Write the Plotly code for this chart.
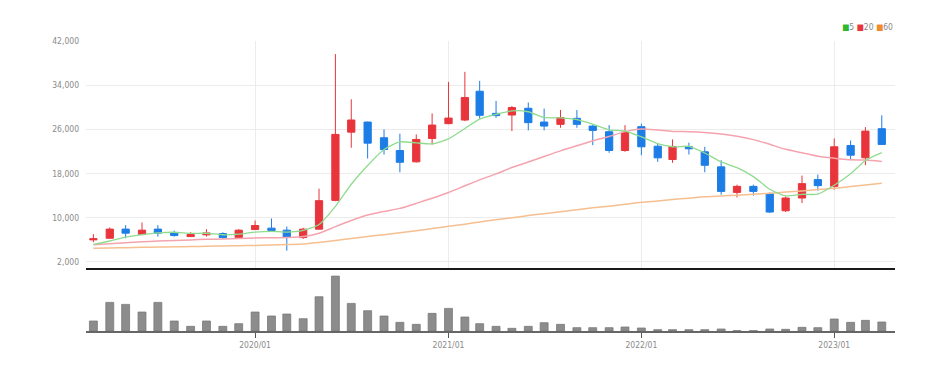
import plotly.graph_objects as go

months = ["2019-03-01","2019-04-01","2019-05-01","2019-06-01","2019-07-01","2019-08-01","2019-09-01","2019-10-01","2019-11-01","2019-12-01",
          "2020-01-01","2020-02-01","2020-03-01","2020-04-01","2020-05-01","2020-06-01","2020-07-01","2020-08-01","2020-09-01","2020-10-01","2020-11-01","2020-12-01",
          "2021-01-01","2021-02-01","2021-03-01","2021-04-01","2021-05-01","2021-06-01","2021-07-01","2021-08-01","2021-09-01","2021-10-01","2021-11-01","2021-12-01",
          "2022-01-01","2022-02-01","2022-03-01","2022-04-01","2022-05-01","2022-06-01","2022-07-01","2022-08-01","2022-09-01","2022-10-01","2022-11-01","2022-12-01",
          "2023-01-01","2023-02-01","2023-03-01","2023-04-01"]

opens  = [6000,6300,7950,6960,7950,7270,6600,6910,7145,6420,
          7870,8130,7760,6420,7945,13150,25500,27330,24490,22180,20130,24360,
          27040,27690,32910,28900,28600,29820,27330,26910,28000,26600,25580,22180,
          26490,22960,20545,22850,21945,19220,14600,15690,14360,11270,13580,16910,
          15690,23090,20850,26130]
highs  = [7036,8250,8670,9150,8670,7690,7400,7945,7380,7945,
          9510,9870,8420,8200,15270,39630,31450,27400,26000,25220,25090,28900,
          34600,36420,34780,31150,30240,30870,29760,29520,29500,26800,26780,26780,
          27040,23400,24180,23600,22850,20420,16000,16000,14600,13870,17640,17820,
          24360,24000,26420,28550]
lows   = [5581,6180,6300,6900,6600,6600,6550,6600,6180,6180,
          7800,7650,4050,6180,7900,13000,22670,20730,21450,18240,20000,23270,
          26950,27500,27950,28100,25690,25820,25820,26300,26300,23150,21760,21950,
          21330,20130,19945,21454,18240,14180,13690,14000,10850,11040,12670,14900,
          15090,20420,19510,23270]
closes = [6200,7950,7220,7760,7220,6780,6960,7270,6420,7760,
          8600,7690,6545,7945,13100,25090,27700,23510,22360,20050,24180,26780,
          28050,31760,28545,28500,29950,27220,26600,28130,26910,25820,22180,25510,
          22850,20850,22910,22490,19510,14780,15690,14780,11040,13580,16180,15820,
          22850,21330,25690,23270]

ma5  = [5200,5800,6500,6950,7270,7386,7188,7198,6930,7038,
        7402,7548,7403,7708,8776,12074,16076,19469,22352,23742,23560,23376,
        24284,26164,27863,28727,29361,29195,28163,28080,27762,26936,25928,25710,
        24654,23442,22860,22922,21722,20108,19076,17450,15160,13974,14254,14280,
        15894,17952,20374,21792]
ma20 = [5100,5300,5500,5650,5800,5900,6000,6100,6150,6250,
        6350,6400,6450,6600,7200,8400,9500,10500,11150,11707,12606,13547,
        14589,15789,16855,17941,19090,20088,21097,22115,23031,23937,24719,25597,
        26085,25873,25633,25582,25440,25176,24752,24152,23301,22392,21774,21140,
        20785,20491,20445,20202]
ma60 = [4500,4550,4600,4650,4700,4750,4800,4850,4900,4950,
        5000,5080,5150,5250,5550,5900,6250,6600,6950,7300,7650,8050,
        8450,8850,9250,9650,10000,10400,10750,11100,11450,11800,12100,12450,
        12800,13050,13300,13550,13800,13950,14100,14250,14450,14650,14850,15100,
        15350,15650,15950,16250]

volumes = [30,86,80,57,86,30,14,30,14,22,
           57,45,51,37,103,165,83,61,45,26,20,53,
           68,42,22,14,8,14,25,20,10,10,10,12,
           9,4,4,4,4,6,1,1,6,5,11,10,
           36,26,32,27]

year_ticks = ["2020-01-01","2021-01-01","2022-01-01","2023-01-01"]
year_labels = ["2020/01","2021/01","2022/01","2023/01"]
price_ticks = [2000,10000,18000,26000,34000,42000]
legend_names = ["5","20","60"]

UP = "#e8353b"
DOWN = "#1d7de6"
FONT = "Liberation Sans Narrow, DejaVu Sans Condensed, Arial Narrow, sans-serif"

fig = go.Figure()

fig.add_trace(go.Scatter(x=months, y=ma60, mode="lines", line=dict(color="#f6bf90", width=1.5, shape="spline", smoothing=0.6),
                         xaxis="x", yaxis="y", showlegend=False, hoverinfo="skip"))
fig.add_trace(go.Scatter(x=months, y=ma20, mode="lines", line=dict(color="#f5a3ad", width=1.5, shape="spline", smoothing=0.6),
                         xaxis="x", yaxis="y", showlegend=False, hoverinfo="skip"))
fig.add_trace(go.Candlestick(x=months, open=opens, high=highs, low=lows, close=closes,
                             increasing=dict(line=dict(color=UP, width=1), fillcolor=UP),
                             decreasing=dict(line=dict(color=DOWN, width=1), fillcolor=DOWN),
                             xaxis="x", yaxis="y", showlegend=False, whiskerwidth=0))
fig.add_trace(go.Scatter(x=months, y=ma5, mode="lines", line=dict(color="#8fdc8f", width=1.3, shape="spline", smoothing=0.6),
                         xaxis="x", yaxis="y", showlegend=False, hoverinfo="skip"))

fig.add_trace(go.Bar(x=months, y=volumes, marker=dict(color="#8c8c8c", line=dict(color="#7a7a7a", width=0.8)),
                     width=15*86400000, xaxis="x2", yaxis="y2", showlegend=False))

xrange = ["2019-02-15", "2023-04-26"]

fig.update_layout(
    width=952, height=373,
    margin=dict(l=78, r=65, t=33, b=50),
    paper_bgcolor="white", plot_bgcolor="white",
    font=dict(family=FONT, size=8.5, color="#8a8a8a"),
    hovermode=False,
    xaxis=dict(domain=[0, 1], anchor="y", type="date", range=xrange, rangeslider=dict(visible=False),
               showticklabels=False, showgrid=True, gridcolor="#ececec", gridwidth=1,
               tickvals=year_ticks, showline=True, linecolor="#1a1a1a", linewidth=2, ticks="", zeroline=False),
    yaxis=dict(domain=[0.217, 1], range=[900, 42000], tickvals=price_ticks,
               ticktext=[f"{v:,}" for v in price_ticks], showgrid=True, gridcolor="#ececec",
               zeroline=False, ticks="", ticklabelstandoff=6, tickfont=dict(size=8.5, color="#8a8a8a")),
    xaxis2=dict(domain=[0, 1], anchor="y2", type="date", range=xrange, matches="x",
                tickvals=year_ticks, ticktext=year_labels, showgrid=False, showline=True,
                linecolor="#666666", linewidth=1.5, ticks="outside", ticklen=5, tickcolor="#555555",
                tickfont=dict(size=8.5, color="#8a8a8a"), zeroline=False),
    yaxis2=dict(domain=[0, 0.203], range=[0, 177], showticklabels=False, showgrid=False, zeroline=False),
)

legend_colors = ["#2db82d", "#e8353b", "#f08c2c"]
legend_text = " ".join(f'<span style="color:{c}">■</span>{n}' for c, n in zip(legend_colors, legend_names))
fig.add_annotation(x=1.0, y=1.048, xref="paper", yref="paper", xanchor="right", yanchor="middle",
                   text=legend_text, showarrow=False, font=dict(family=FONT, size=8.5, color="#888888"))

fig.write_html("out.html")
